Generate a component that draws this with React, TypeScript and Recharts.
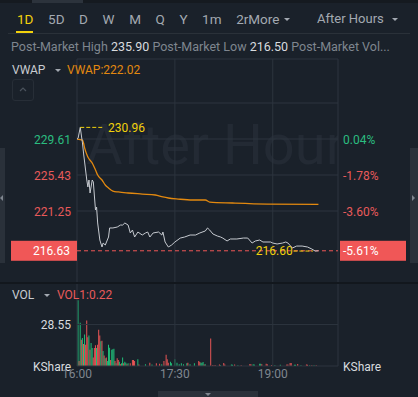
import React from "react";
import {
  ComposedChart, Line, BarChart, Bar, Cell, XAxis, YAxis, ReferenceLine, ReferenceDot,
} from "recharts";

// ---- data ----
const tabs = ["1D", "5D", "D", "W", "M", "Q", "Y", "1m", "2rMore"];
const timeTicks = [0, 90, 180];
const timeLabels = ["16:00", "17:30", "19:00"];

// minutes after 16:00
const priceTimes = [0, 1, 3, 5, 6, 9, 10, 11, 12, 14, 15, 17, 18, 19, 21, 23, 24, 26, 29, 30, 33, 37, 40, 42, 44, 47, 49, 51, 53, 56, 60, 63, 65, 67, 70, 75, 78, 79, 81, 84, 87, 90, 95, 99, 104, 109, 113, 118, 120, 122, 125, 129, 132, 134, 138, 141, 147, 153, 157, 161, 164, 168, 171, 178, 180, 184, 189, 192, 194, 198, 202, 207, 212, 216, 219, 222];
const priceValues = [229.6, 229.7, 230.96, 229.15, 227.98, 224.85, 224.04, 224.85, 223.34, 224.85, 224.62, 221.37, 221.71, 219.86, 217.88, 217.07, 217.53, 217.3, 218.23, 219.28, 219.28, 219.39, 219.62, 219.62, 219.86, 219.62, 218.7, 219.04, 218.23, 218.81, 218.46, 218.7, 218.81, 218.23, 218.7, 218.81, 218.46, 218.81, 217.65, 217.07, 217.3, 217.65, 218.11, 218.23, 218.46, 218.46, 218.7, 218.93, 219.28, 219.04, 218.58, 218.35, 218.23, 218.11, 217.77, 218.0, 218.0, 218.11, 218.11, 217.53, 217.77, 217.88, 217.65, 217.65, 217.53, 217.42, 217.53, 217.65, 217.53, 216.95, 217.18, 217.18, 217.07, 216.83, 216.6, 216.63];

const vwapTimes = [0, 5, 6, 7, 10, 14, 17, 19, 23, 26, 29, 33, 38, 47, 60, 72, 79, 84, 93, 106, 118, 122, 143, 175, 222];
const vwapValues = [229.6, 229.49, 229.15, 228.57, 227.52, 226.82, 226.01, 225.43, 224.85, 224.27, 223.92, 223.57, 223.46, 223.34, 223.22, 223.11, 222.88, 222.76, 222.64, 222.53, 222.53, 222.29, 222.18, 222.06, 222.02];

const priceTicks = [229.61, 225.43, 221.25];
const pctLabels = ["0.04%", "-1.78%", "-3.60%"];
const gridPrices = [233.79, 229.61, 225.43, 221.25];
const prevClose = 229.52;
const lastPrice = 216.63;
const lastPct = "-5.61%";
const highPrice = 230.96;
const lowPrice = 216.6;

const volTimes = [1, 2, 3, 4, 5, 6, 7, 8, 9, 10, 11, 12, 13, 14, 15, 16, 17, 18, 19, 20, 21, 22, 23, 24, 25, 26, 27, 28, 29, 30, 31, 32, 33, 34, 35, 36, 37, 38, 39, 40, 41, 42, 43, 44, 45, 46, 47, 49, 51, 52, 53, 56, 57, 63, 67, 69, 73, 76, 78, 80, 82, 83, 84, 86, 87, 90, 92, 94, 96, 98, 101, 102, 104, 108, 112, 113, 114, 115, 116, 117, 118, 123, 125, 127, 131, 132, 135, 136, 142, 143, 145, 148, 151, 159, 160, 162, 163, 168, 169, 170, 174, 175, 179, 182, 187, 193, 194, 196, 197, 200, 201, 203, 206, 211, 212, 214, 216, 218, 220];
const volValues = [45.2, 3.5, 29.7, 18.1, 19.3, 15.1, 21.6, 14.6, 31.3, 19.7, 21.0, 11.1, 15.8, 12.3, 5.8, 12.3, 14.2, 12.3, 14.6, 25.0, 21.0, 17.0, 17.4, 10.4, 7.2, 5.3, 5.8, 3.5, 14.6, 12.5, 4.2, 11.1, 11.6, 11.8, 3.5, 1.9, 5.3, 4.2, 3.0, 1.2, 1.9, 5.8, 1.9, 3.0, 2.3, 1.2, 1.9, 1.9, 4.2, 4.2, 3.5, 4.6, 1.0, 1.2, 2.3, 1.0, 1.9, 1.5, 1.2, 3.5, 7.7, 4.6, 2.3, 3.0, 1.9, 4.6, 2.3, 1.2, 1.9, 1.2, 1.9, 2.3, 1.2, 1.9, 3.5, 2.8, 2.3, 2.3, 2.8, 1.0, 1.2, 19.0, 0.7, 0.7, 1.0, 0.5, 2.1, 1.0, 1.0, 0.8, 1.0, 0.5, 0.5, 1.4, 1.2, 1.2, 1.0, 1.6, 1.6, 1.2, 1.6, 1.2, 0.7, 0.5, 0.9, 1.0, 1.0, 2.1, 2.1, 0.9, 0.9, 1.4, 0.5, 1.0, 0.8, 0.6, 0.5, 0.6, 0.5];
const volUp = [1, 0, 1, 0, 1, 0, 1, 0, 0, 0, 1, 0, 1, 1, 0, 0, 0, 1, 0, 0, 0, 1, 0, 1, 0, 1, 0, 1, 1, 1, 0, 1, 1, 1, 0, 1, 0, 0, 1, 0, 1, 1, 0, 1, 1, 0, 1, 0, 0, 0, 0, 1, 0, 1, 0, 1, 0, 0, 1, 0, 0, 0, 0, 1, 1, 1, 1, 1, 1, 1, 1, 0, 1, 1, 0, 0, 1, 1, 1, 0, 1, 0, 0, 0, 0, 1, 0, 0, 1, 1, 0, 1, 0, 0, 0, 1, 1, 1, 1, 0, 0, 0, 0, 1, 1, 0, 0, 0, 0, 1, 1, 0, 1, 0, 0, 1, 0, 1, 0];
const volGrid = 28.55;

// ---- colours ----
const BG = "#1a212a";
const GRID = "#2c343e";
const TAB = "#a3a9b1";
const MUTED = "#7f868f";
const YELLOW = "#f2d10c";
const GREEN = "#2bbd80";
const RED = "#e85a5a";
const RED_BOX = "#f05757";
const ORANGE = "#e3890f";
const WHITE = "#d8dbdf";

const priceData = priceTimes.map((t, i) => ({ t, p: priceValues[i] }));
const vwapData = vwapTimes.map((t, i) => ({ t, p: vwapValues[i] }));
const volData = volTimes.map((t, i) => ({ t, v: volValues[i], up: volUp[i] }));
const axisTicks = [...priceTicks, lastPrice];

const Caret = ({ left, top }: { left: number; top: number }) => (
  <div style={{
    position: "absolute", left, top, width: 0, height: 0,
    borderLeft: "3px solid transparent", borderRight: "3px solid transparent", borderTop: `3px solid ${TAB}`,
  }} />
);

function LeftTick(props: any) {
  const { y, payload } = props;
  const v = payload.value;
  if (v === lastPrice) {
    return (
      <g>
        <rect x={11} y={y - 10} width={66} height={20} fill={RED_BOX} />
        <text x={70} y={y} dy={4.5} textAnchor="end" fill="#fff" fontSize={12}>{v.toFixed(2)}</text>
      </g>
    );
  }
  return (
    <text x={71} y={y} dy={4.5} textAnchor="end" fill={v > prevClose ? GREEN : RED} fontSize={12}>
      {v.toFixed(2)}
    </text>
  );
}

function RightTick(props: any) {
  const { y, payload } = props;
  const v = payload.value;
  if (v === lastPrice) {
    return (
      <g>
        <rect x={340} y={y - 10} width={66} height={20} fill={RED_BOX} />
        <text x={343} y={y} dy={4.5} fill="#fff" fontSize={12}>{lastPct}</text>
      </g>
    );
  }
  const i = priceTicks.indexOf(v);
  return (
    <text x={343} y={y} dy={4.5} fill={v > prevClose ? GREEN : RED} fontSize={12}>{pctLabels[i]}</text>
  );
}

function TimeTick(props: any) {
  const { x, y, payload } = props;
  return (
    <text x={x} y={y} dy={6} textAnchor="middle" fill={MUTED} fontSize={12}>
      {timeLabels[timeTicks.indexOf(payload.value)]}
    </text>
  );
}

export default function App() {
  return (
    <div style={{
      position: "fixed", left: 0, top: 0, width: 418, height: 397, background: BG,
      overflow: "hidden", fontFamily: "Roboto, 'Noto Sans', sans-serif",
    }}>
      {/* top strip */}
      <div style={{ position: "absolute", left: 0, top: 0, width: 418, height: 3, background: "#151a20" }} />
      <div style={{ position: "absolute", left: 32, top: 0, width: 51, height: 3, background: "#2c333c" }} />

      {/* tabs */}
      <div style={{ position: "absolute", left: 17, top: 10, display: "flex", gap: 14.6, fontSize: 13.5, lineHeight: "18px" }}>
        {tabs.map((t, i) => (
          <span key={t} style={{ color: i === 0 ? YELLOW : TAB }}>{t}</span>
        ))}
      </div>
      <Caret left={284} top={18} />
      <div style={{ position: "absolute", left: 16, top: 31, width: 17, height: 2, background: YELLOW }} />
      <div style={{ position: "absolute", left: 317, top: 10, fontSize: 13, lineHeight: "18px", color: TAB }}>After Hours</div>
      <Caret left={392} top={18} />
      <div style={{ position: "absolute", left: 8, top: 33, width: 402, height: 1, background: "#2a3139" }} />

      {/* post-market info row */}
      <div style={{ position: "absolute", left: 11, top: 40, width: 400, fontSize: 12.5, lineHeight: "14px", whiteSpace: "nowrap", overflow: "hidden", color: MUTED }}>
        Post-Market High <span style={{ color: WHITE }}>235.90</span> Post-Market Low <span style={{ color: WHITE }}>216.50</span> Post-Market Vol...
      </div>

      {/* watermark */}
      <div style={{ position: "absolute", left: 77, top: 59, width: 261, height: 224, overflow: "hidden" }}>
        <svg width={261} height={224}>
          <text x={9} y={105} fontSize={56} fontFamily="Roboto" fill="#232a34">After Hours</text>
        </svg>
      </div>

      {/* side handles */}
      <div style={{ position: "absolute", left: 0, top: 148, width: 5, height: 115, background: "#2a313a" }} />
      <div style={{ position: "absolute", left: 0, top: 195, width: 0, height: 0, borderTop: "3px solid transparent", borderBottom: "3px solid transparent", borderRight: `3px solid ${MUTED}` }} />
      <div style={{ position: "absolute", left: 410, top: 148, width: 8, height: 115, background: "#2a313a" }} />
      <div style={{ position: "absolute", left: 412, top: 195, width: 0, height: 0, borderTop: "3px solid transparent", borderBottom: "3px solid transparent", borderLeft: `3px solid ${MUTED}` }} />

      {/* price chart */}
      <div style={{ position: "absolute", left: 0, top: 58 }}>
        <ComposedChart width={418} height={225} margin={{ top: 1, right: 0, bottom: 0, left: 0 }}>
          <XAxis type="number" dataKey="t" domain={[0, 240]} hide allowDataOverflow />
          <YAxis yAxisId="l" domain={[212.89, 238.9]} ticks={axisTicks} interval={0} width={77}
            axisLine={false} tickLine={false} tick={(p: any) => <LeftTick {...p} />} allowDataOverflow />
          <YAxis yAxisId="r" orientation="right" domain={[212.89, 238.9]} ticks={axisTicks} interval={0} width={80}
            axisLine={false} tickLine={false} tick={(p: any) => <RightTick {...p} />} allowDataOverflow />
          <ReferenceLine yAxisId="l" y={238.9} stroke={GRID} />
          {gridPrices.map((g) => (
            <ReferenceLine key={g} yAxisId="l" y={g} stroke={GRID} />
          ))}
          {[0, ...timeTicks.slice(1), 240].map((t) => (
            <ReferenceLine key={t} yAxisId="l" x={t} stroke={GRID} />
          ))}
          <ReferenceLine yAxisId="l" y={lastPrice} stroke={RED_BOX} strokeDasharray="4 3" />
          <Line yAxisId="l" data={vwapData} dataKey="p" type="monotone" stroke={ORANGE} strokeWidth={1.3} dot={false} isAnimationActive={false} />
          <Line yAxisId="l" data={priceData} dataKey="p" type="linear" stroke="#c6cad0" strokeWidth={1} dot={false} isAnimationActive={false} />
          <ReferenceLine yAxisId="l" segment={[{ x: 3, y: highPrice }, { x: 24, y: highPrice }]} stroke={YELLOW} strokeDasharray="4 2" />
          <ReferenceDot yAxisId="l" x={24} y={highPrice} r={0} fill="none" stroke="none"
            label={{ value: highPrice.toFixed(2), position: "right", fill: YELLOW, fontSize: 12 }} />
          <ReferenceLine yAxisId="l" segment={[{ x: 199, y: lowPrice }, { x: 217, y: lowPrice }]} stroke={YELLOW} strokeDasharray="4 2" />
          <ReferenceDot yAxisId="l" x={203} y={lowPrice} r={0} fill="none" stroke="none"
            label={{ value: lowPrice.toFixed(2), position: "left", fill: YELLOW, fontSize: 12 }} />
        </ComposedChart>
      </div>

      {/* VWAP legend */}
      <div style={{ position: "absolute", left: 12, top: 63, fontSize: 12, lineHeight: "14px", color: "#c8ccd1" }}>VWAP</div>
      <Caret left={55} top={69} />
      <div style={{ position: "absolute", left: 67, top: 63, fontSize: 12, lineHeight: "14px", color: ORANGE }}>
        VWAP:{vwapValues[vwapValues.length - 1].toFixed(2)}
      </div>
      <div style={{ position: "absolute", left: 12, top: 79, width: 20, height: 20, border: "1px solid #272e37", borderRadius: 3 }}>
        <svg width={20} height={20}>
          <polyline points="7,11 10,8 13,11" fill="none" stroke="#4a525c" strokeWidth={1.2} />
        </svg>
      </div>

      {/* panel separator */}
      <div style={{ position: "absolute", left: 0, top: 282, width: 418, height: 2, background: "#12171d" }} />

      {/* volume chart */}
      <div style={{ position: "absolute", left: 0, top: 284 }}>
        <BarChart width={418} height={102} data={volData} margin={{ top: 0, right: 0, bottom: 0, left: 0 }}>
          <XAxis type="number" dataKey="t" domain={[0, 240]} ticks={timeTicks} interval={0}
            height={20} axisLine={{ stroke: GRID }} tickLine={false} tickMargin={0} tick={(p: any) => <TimeTick {...p} />} allowDataOverflow />
          <YAxis yAxisId="l" domain={[0, 56.4]} ticks={[volGrid]} width={77} axisLine={false} tickLine={false}
            tick={(p: any) => <text x={71} y={p.y} dy={4.5} textAnchor="end" fill={WHITE} fontSize={12}>{volGrid.toFixed(2)}</text>} />
          <YAxis yAxisId="r" orientation="right" domain={[0, 56.4]} ticks={[volGrid]} width={80} axisLine={false} tickLine={false}
            tick={(p: any) => <text x={343} y={p.y} dy={4.5} fill={WHITE} fontSize={12}>{volGrid.toFixed(2)}</text>} />
          <ReferenceLine yAxisId="l" y={volGrid} stroke={GRID} />
          {[0, ...timeTicks.slice(1), 240].map((t) => (
            <ReferenceLine key={t} yAxisId="l" x={t} stroke={GRID} />
          ))}
          <Bar yAxisId="l" dataKey="v" barSize={1.2} isAnimationActive={false}>
            {volData.map((d, i) => (
              <Cell key={i} fill={d.up ? "#20c07a" : "#ec5656"} />
            ))}
          </Bar>
        </BarChart>
      </div>

      {/* VOL legend and unit labels */}
      <div style={{ position: "absolute", left: 12, top: 288, fontSize: 12, lineHeight: "14px", color: "#c8ccd1" }}>VOL</div>
      <Caret left={44} top={294} />
      <div style={{ position: "absolute", left: 57, top: 288, fontSize: 12, lineHeight: "14px", color: RED }}>VOL1:0.22</div>
      <div style={{ position: "absolute", right: 418 - 71, top: 360, fontSize: 12, lineHeight: "14px", color: WHITE }}>KShare</div>
      <div style={{ position: "absolute", left: 343, top: 360, fontSize: 12, lineHeight: "14px", color: WHITE }}>KShare</div>

      {/* bottom handle */}
      <div style={{ position: "absolute", left: 158, top: 391, width: 100, height: 6, background: "#2a313a" }} />
      <div style={{ position: "absolute", left: 205, top: 393, width: 0, height: 0, borderLeft: "3px solid transparent", borderRight: "3px solid transparent", borderTop: `3px solid ${MUTED}` }} />
    </div>
  );
}
